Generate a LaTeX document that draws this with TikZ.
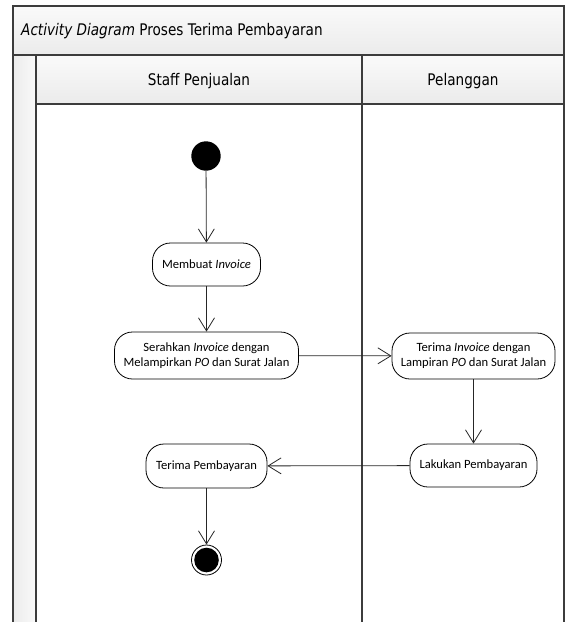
\documentclass[tikz,border=0pt]{standalone}
\usepackage{fontspec}
\setmainfont{Carlito}
\newfontfamily\hdfont[FakeStretch=0.85]{DejaVu Sans}
\usetikzlibrary{arrows.meta}
\definecolor{frameline}{HTML}{3C3C3C}
\definecolor{barlight}{HTML}{FAFAFA}
\definecolor{bardark}{HTML}{EBEBEB}
\tikzset{
  frame/.style={draw=frameline, line width=1.2pt},
  act/.style={draw=black, line width=0.8pt, fill=white, rectangle,
    rounded corners=18pt, align=center, inner sep=0pt,
    font=\fontsize{12.6}{15}\selectfont},
  flow/.style={draw=black!85, line width=0.8pt,
    -{Straight Barb[length=13pt,width=16pt,line width=0.8pt]}},
  headtext/.style={font=\hdfont\fontsize{16}{18}\selectfont, inner sep=0pt},
}
\begin{document}
\begin{tikzpicture}[x=1pt, y=-1pt]
\useasboundingbox (0,0) rectangle (566,622);

% title bar and lane headers
\shade[top color=barlight, bottom color=bardark] (13,6) rectangle (564,55);
\shade[top color=barlight, bottom color=bardark] (36,55) rectangle (564,104);
\shade[left color=bardark, right color=barlight] (13,55) rectangle (36,622);

\draw[frame] (13,622) -- (13,6) -- (564,6) -- (564,622);
\draw[frame] (13,55) -- (564,55);
\draw[frame] (36,622) -- (36,55);
\draw[frame] (36,104) -- (564,104);
\draw[frame] (362,55) -- (362,622);

\node[headtext, anchor=base west] (title) at (21,35.5)
  {\textit{Activity Diagram} Proses Terima Pembayaran};
\node[headtext, anchor=base] (laneA) at (199,85) {Staff Penjualan};
\node[headtext, anchor=base] (laneB) at (463,85) {Pelanggan};

% activities
\node[circle, fill=black, minimum size=29.4pt, inner sep=0pt] (start) at (206,156) {};
\node[act, minimum width=108pt, minimum height=43pt] (buat) at (206.5,264.5)
  {Membuat \textit{Invoice}};
\node[act, minimum width=184pt, minimum height=47pt] (serah) at (206.5,355.5)
  {Serahkan \textit{Invoice} dengan\\Melampirkan \textit{PO} dan Surat Jalan};
\node[act, minimum width=163pt, minimum height=46pt] (terimainv) at (473.5,356)
  {Terima \textit{Invoice} dengan\\Lampiran \textit{PO} dan Surat Jalan};
\node[act, minimum width=127pt, minimum height=43pt] (bayar) at (473.5,465.5)
  {Lakukan Pembayaran};
\node[act, minimum width=121pt, minimum height=44pt] (terimabayar) at (206.5,466)
  {Terima Pembayaran};
\node[circle, draw=black, line width=0.8pt, fill=white, minimum size=30pt, inner sep=0pt] (end) at (206.5,560) {};
\fill[black] (end.center) circle (12.3pt);

% control flow
\draw[flow] (start) -- (buat);
\draw[flow] (buat) -- (serah);
\draw[flow] (serah) -- (terimainv);
\draw[flow] (terimainv) -- (bayar);
\draw[flow] (bayar) -- (terimabayar);
\draw[flow] (terimabayar) -- (end);
\end{tikzpicture}
\end{document}
